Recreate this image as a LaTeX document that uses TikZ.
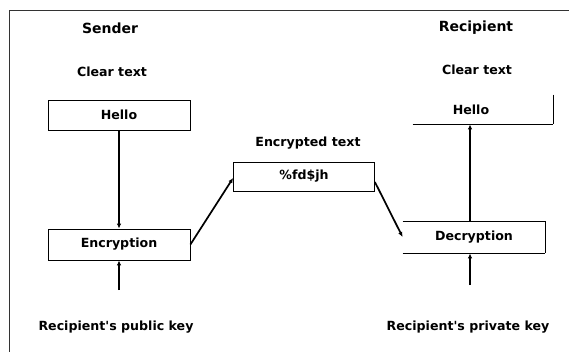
\documentclass[tikz,border=0pt]{standalone}
\usepackage{fontspec}
\setmainfont{DejaVu Sans}
\usetikzlibrary{arrows.meta}
\tikzset{
  heading/.style={font=\bfseries\fontsize{14}{16}\selectfont},
  caption/.style={font=\bfseries\fontsize{12.6}{15}\selectfont},
  msgbox/.style={draw, line width=0.8pt, minimum width=142pt, minimum height=30pt, inner sep=0pt, font=\bfseries\fontsize{12.6}{15}\selectfont},
  openbox/.style={msgbox, draw=none},
  flow/.style={-{Latex[length=5pt,width=4.5pt]}, line width=1.7pt},
  frame/.style={line width=1pt, black!80}
}
\begin{document}
\begin{tikzpicture}[x=1pt,y=-1pt]
  \useasboundingbox (0,0) rectangle (569,352);
  % outer frame (top and left only)
  \draw[frame] (9,352) -- (9,11) -- (569,11);

  % headings
  \node[heading] (sender) at (110,28) {Sender};
  \node[heading] (recipient) at (476,28) {Recipient};
  \node[caption] (clear1) at (112,72) {Clear text};
  \node[caption] (clear2) at (477,70) {Clear text};
  \node[caption] (enctext) at (308,143) {Encrypted text};

  % boxes
  \node[msgbox] (hello1) at (119,115) {Hello};
  \node[msgbox, minimum height=31pt] (encrypt) at (119,244.5) {Encryption};
  \node[msgbox, minimum width=141pt, minimum height=29pt] (cipher) at (304,176.5) {\%fd\$jh};
  \node[openbox, minimum width=140pt, minimum height=29pt] (hello2) at (483,109.5) {\hspace*{-24pt}Hello};
  \node[openbox, minimum height=31pt] (decrypt) at (474,237.5) {Decryption};

  % edges of the open boxes
  \draw[line width=0.8pt] (hello2.north east) -- (hello2.south east);
  \draw[line width=1.6pt] (hello2.south west) -- (hello2.south east);
  \draw[line width=0.8pt] (decrypt.north west) -- (decrypt.north east) -- (decrypt.south east);
  \draw[line width=1.6pt] (decrypt.south west) -- (decrypt.south east);

  % key labels
  \node[caption] (pubkey) at (116,327) {Recipient\textquotesingle s public key};
  \node[caption] (privkey) at (468,327) {Recipient\textquotesingle s private key};
  \coordinate (pubin) at (119,290);
  \coordinate (privin) at (470,285);

  % connectors
  \draw[flow] (hello1.south) -- (encrypt.north);
  \draw[flow] (pubin) -- (encrypt.south);
  \draw[flow] (encrypt.east) -- ([yshift=-1.5pt]cipher.west);
  \draw[flow] ([yshift=-5.5pt]cipher.east) -- ([yshift=0.5pt]decrypt.west);
  \draw[flow] (decrypt.north -| privin) -- (hello2.south -| privin);
  \draw[flow] (privin) -- (decrypt.south -| privin);
\end{tikzpicture}
\end{document}
